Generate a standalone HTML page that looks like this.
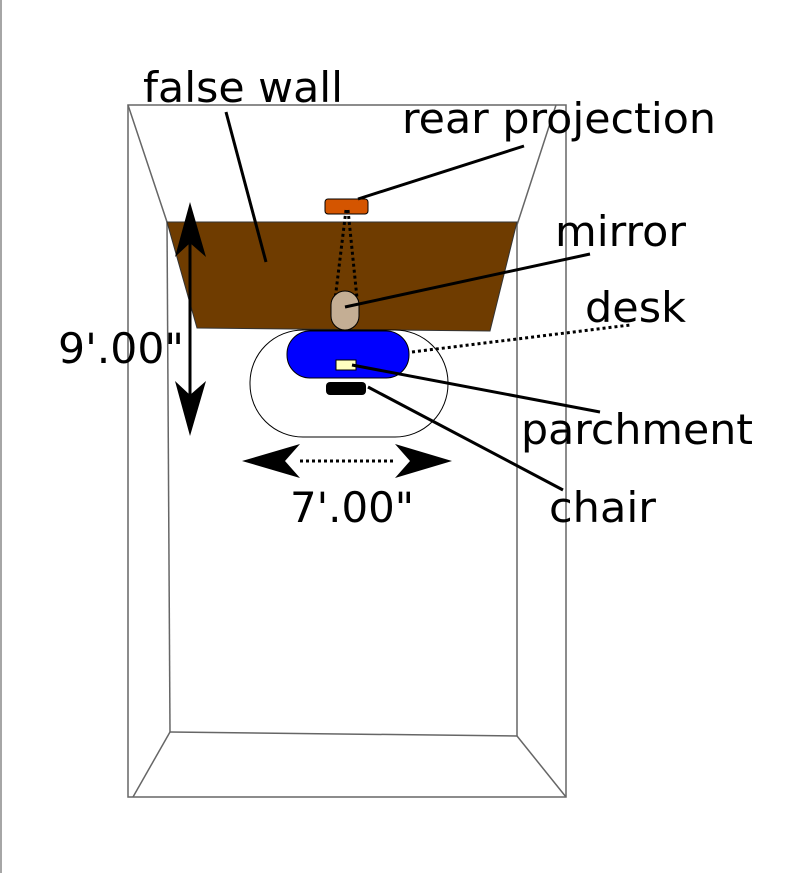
<!DOCTYPE html>
<html><head><style>body{margin:0;background:#fff}svg{display:block}</style></head>
<body>
<svg width="802" height="873" viewBox="0 0 802 873" xmlns="http://www.w3.org/2000/svg" font-family="DejaVu Sans, Liberation Sans, sans-serif">
<line x1="1" y1="0" x2="1" y2="873" stroke="#888" stroke-width="1.5"/>
<g stroke="#666" stroke-width="1.5" fill="none">
<rect x="128" y="105" width="438" height="692"/>
<line x1="128" y1="105" x2="167" y2="222"/>
<line x1="556" y1="105" x2="517" y2="225"/>
<line x1="167" y1="222" x2="170" y2="732"/>
<line x1="517" y1="225" x2="517" y2="736"/>
<line x1="170" y1="732" x2="517" y2="736"/>
<line x1="170" y1="732" x2="133" y2="797"/>
<line x1="517" y1="736" x2="566" y2="797"/>
</g>
<polygon points="167,222 517,222 490,331 197,328" fill="#6f3c00" stroke="#333" stroke-width="1"/>
<rect x="250" y="330" width="198" height="107" rx="53" fill="#fff" stroke="#000" stroke-width="1"/>
<rect x="287" y="331" width="122" height="47" rx="23" fill="#0000ff" stroke="#000" stroke-width="1"/>
<rect x="336" y="360" width="20" height="10" fill="#ffffc0" stroke="#000" stroke-width="1"/>
<rect x="326" y="382" width="40" height="13" rx="4" fill="#000"/>
<rect x="325" y="199" width="43" height="15" rx="3" fill="#d45500" stroke="#000" stroke-width="1"/>
<g stroke="#000" stroke-width="3" stroke-dasharray="3,3" fill="none">
<line x1="346" y1="210" x2="334" y2="308"/>
<line x1="348" y1="210" x2="358" y2="308"/>
<line x1="412" y1="352" x2="630" y2="325"/>
<line x1="300" y1="461" x2="395" y2="461"/>
</g>
<rect x="331" y="291" width="28" height="39" rx="14" fill="#c4ae94" stroke="#000" stroke-width="1"/>
<g stroke="#000" stroke-width="3">
<line x1="226" y1="112" x2="266" y2="262"/>
<line x1="524" y1="146" x2="358" y2="199"/>
<line x1="590" y1="254" x2="345" y2="307"/>
<line x1="352" y1="365" x2="600" y2="412"/>
<line x1="368" y1="387" x2="563" y2="490"/>
<line x1="190" y1="230" x2="190" y2="405"/>
</g>
<g fill="#000">
<polygon points="190,202 206,257 190,243 175,257"/>
<polygon points="190,436 206,381 190,395 175,381"/>
<polygon points="242,461 300,444 285,461 300,478"/>
<polygon points="452,461 395,444 410,461 395,478"/>
</g>
<g font-size="42" fill="#000" lengthAdjust="spacingAndGlyphs">
<text x="143" y="102" textLength="200" lengthAdjust="spacingAndGlyphs">false wall</text>
<text x="402" y="133" textLength="314" lengthAdjust="spacingAndGlyphs">rear projection</text>
<text x="555" y="246" textLength="131" lengthAdjust="spacingAndGlyphs">mirror</text>
<text x="585" y="322" textLength="101" lengthAdjust="spacingAndGlyphs">desk</text>
<text x="58" y="363" textLength="126" lengthAdjust="spacingAndGlyphs">9'.00"</text>
<text x="521" y="444" textLength="232" lengthAdjust="spacingAndGlyphs">parchment</text>
<text x="290" y="522" textLength="124" lengthAdjust="spacingAndGlyphs">7'.00"</text>
<text x="549" y="522" textLength="107" lengthAdjust="spacingAndGlyphs">chair</text>
</g>
</svg>
</body></html>
